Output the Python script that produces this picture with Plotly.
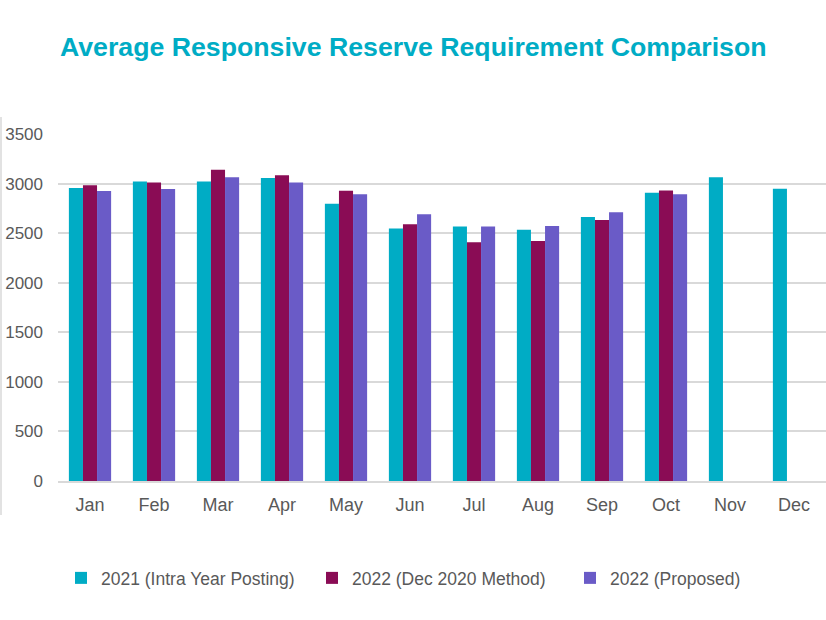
import plotly.graph_objects as go

months = ["Jan", "Feb", "Mar", "Apr", "May", "Jun", "Jul", "Aug", "Sep", "Oct", "Nov", "Dec"]
s2021 = [2956, 3020, 3020, 3057, 2797, 2547, 2567, 2533, 2663, 2907, 3063, 2947]
s2022_dec = [2983, 3010, 3140, 3083, 2927, 2590, 2407, 2420, 2633, 2930, None, None]
s2022_prop = [2926, 2946, 3063, 3010, 2893, 2690, 2567, 2573, 2710, 2893, None, None]
y_ticks = [0, 500, 1000, 1500, 2000, 2500, 3000, 3500]

names = ["2021 (Intra Year Posting)", "2022 (Dec 2020 Method)", "2022 (Proposed)"]
colors = ["#00ACC5", "#8A0C55", "#6A5BC7"]
series = [s2021, s2022_dec, s2022_prop]
legend_ids = ["legend", "legend2", "legend3"]
legend_text_x = [103, 354, 612]

FONT = "Liberation Sans, Arial, sans-serif"
fig = go.Figure()
for n, c, s, lg in zip(names, colors, series, legend_ids):
    fig.add_trace(go.Bar(x=months, y=s, name=n, legend=lg,
                         marker=dict(color=c, line=dict(width=0))))

legend_common = dict(orientation="h", xanchor="left", xref="container",
                     y=1-578/620, yanchor="middle", yref="container",
                     font=dict(family=FONT, size=17.5, color="#595959"),
                     itemwidth=30, bgcolor="rgba(0,0,0,0)")

fig.update_layout(
    width=826, height=620,
    margin=dict(l=58, r=0, t=134, b=139),
    paper_bgcolor="white", plot_bgcolor="white",
    barmode="group", bargap=0.34, bargroupgap=0,
    title=dict(text="<b>Average Responsive Reserve Requirement Comparison</b>",
               x=60/826, xanchor="left", xref="container",
               y=1-47/620, yanchor="middle", yref="container",
               font=dict(family=FONT, size=26.7, color="#00ACC5")),
    font=dict(family=FONT, size=17, color="#595959"),
    showlegend=True,
    legend=dict(x=(legend_text_x[0]-42)/826, **legend_common),
    legend2=dict(x=(legend_text_x[1]-42)/826, **legend_common),
    legend3=dict(x=(legend_text_x[2]-42)/826, **legend_common),
    xaxis=dict(showgrid=False, showline=True, linecolor="#D9D9D9", linewidth=2,
               ticks="", tickfont=dict(size=18, color="#595959"), ticklabelstandoff=6),
    yaxis=dict(range=[0, 3500], tickvals=y_ticks, showgrid=True, gridcolor="#D9D9D9",
               gridwidth=1.5, zeroline=False, showline=False, ticks="",
               tickfont=dict(size=17, color="#595959"), ticklabelstandoff=14),
    shapes=[dict(type="line", xref="paper", yref="paper",
                 x0=(1-58)/768, x1=(1-58)/768, y0=(481-117)/347, y1=(481-515)/347,
                 line=dict(color="#D9D9D9", width=1.5))],
)

fig.write_html("out.html", config={"displayModeBar": False},
               post_script="document.body.style.margin='0';document.body.style.overflow='hidden';")
